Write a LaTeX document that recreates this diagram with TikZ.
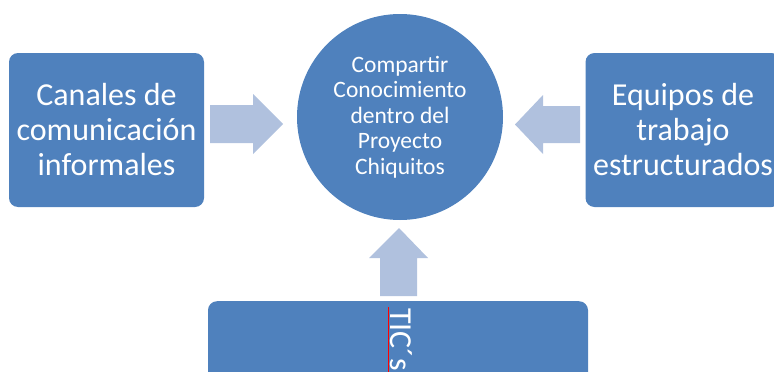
\documentclass[tikz,border=0pt]{standalone}
\usepackage{fontspec}
\setmainfont{Carlito}
\usepackage{xcolor}
\usetikzlibrary{positioning}
\definecolor{boxblue}{HTML}{4F81BD}
\definecolor{arrowblue}{HTML}{B0C1DE}

\begin{document}
\begin{tikzpicture}[x=1pt,y=-1pt,
  box/.style={fill=boxblue,rounded corners=9pt,text=white,align=center,
    minimum width=195pt,minimum height=154pt,inner sep=0pt,
    font=\fontsize{32}{35}\selectfont},
  hub/.style={circle,fill=boxblue,text=white,align=center,inner sep=0pt,
    minimum size=206pt,font=\fontsize{23.5}{25.5}\selectfont},
  blockarrow/.style={fill=arrowblue}]
\useasboundingbox (0,0) rectangle (774,372);
\clip (0,0) rectangle (774,372);
% centre
\node[hub] (hub) at (400,117) {Compartir\\Conocimiento\\dentro del\\Proyecto\\Chiquitos};
% side boxes
\node[box] (canales) at (106.5,130) {Canales de\\comunicación\\informales};
\node[box] (equipos) at (683,130) {Equipos de\\trabajo\\estructurados};
% bottom box
\node[box,minimum width=380pt,anchor=north] (tics) at (398,301) {};
\node[rotate=-90,anchor=west,inner sep=0pt,text=white,
  font=\fontsize{32}{35}\selectfont] (ticslabel) at (401,308) {TIC´s};
\draw[red,line width=0.6pt] (388,307) -- (388,372);
% arrows
\fill[blockarrow] (210,105) -- (253,105) -- (253,94) -- (283,124)
  -- (253,154) -- (253,143) -- (210,143) -- cycle;
\fill[blockarrow] (580,106) -- (543,106) -- (543,95) -- (515,124.5)
  -- (543,154) -- (543,143) -- (580,143) -- cycle;
\fill[blockarrow] (380,296) -- (380,258) -- (369,258) -- (399,228)
  -- (428,258) -- (417,258) -- (417,296) -- cycle;
\end{tikzpicture}
\end{document}
